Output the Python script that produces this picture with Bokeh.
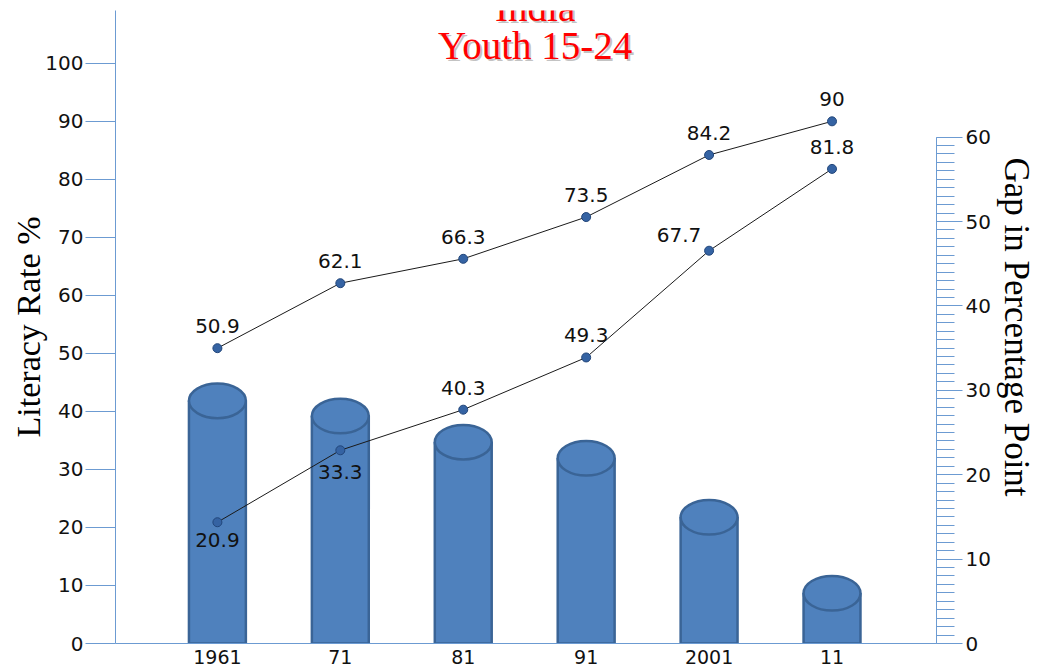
from bokeh.plotting import figure
from bokeh.models import Range1d, LinearAxis, SingleIntervalTicker, FixedTicker, Label, LabelSet, ColumnDataSource
from bokeh.core.properties import value
from bokeh.embed import file_html
from bokeh.resources import INLINE

years = ["1961", "71", "81", "91", "2001", "11"]
male = [50.9, 62.1, 66.3, 73.5, 84.2, 90.0]
female = [20.9, 33.3, 40.3, 49.3, 67.7, 81.8]
gap = [30.8, 29.0, 25.9, 24.0, 17.0, 8.0]
male_text = ["50.9", "62.1", "66.3", "73.5", "84.2", "90"]
female_text = ["20.9", "33.3", "40.3", "49.3", "67.7", "81.8"]

xs = list(range(len(years)))
AXIS_C = "#6C9BD2"

p = figure(width=1038, height=666, x_range=Range1d(-0.829, 5.85), y_range=Range1d(0, 109.1),
           output_backend="svg", toolbar_location=None,
           min_border_top=10, min_border_left=115, min_border_right=101, min_border_bottom=22)
p.extra_y_ranges = {"gap": Range1d(0, 75.0)}
p.xgrid.visible = False
p.ygrid.visible = False
p.outline_line_color = None
p.background_fill_color = "white"

# left axis
ax = p.yaxis[0]
ax.ticker = SingleIntervalTicker(interval=10, num_minor_ticks=0)
ax.major_tick_out = 30
ax.major_tick_in = 0
ax.minor_tick_line_color = None
ax.axis_line_color = AXIS_C
ax.major_tick_line_color = AXIS_C
ax.major_label_text_font = "DejaVu Sans"
ax.major_label_text_font_size = "20px"
ax.major_label_text_color = "#111111"
ax.major_label_standoff = 2
ax.axis_label = "Literacy Rate %"
ax.axis_label_text_font = "Liberation Serif"
ax.axis_label_text_font_size = "34px"
ax.axis_label_text_font_style = "normal"
ax.axis_label_text_color = "black"
ax.axis_label_standoff = -5

# right axis
rax = LinearAxis(y_range_name="gap", ticker=SingleIntervalTicker(interval=10, num_minor_ticks=10),
                 bounds=(0, 60))
rax.major_tick_out = 26
rax.major_tick_in = 0
rax.minor_tick_out = 18
rax.minor_tick_in = 0
rax.axis_line_color = AXIS_C
rax.major_tick_line_color = AXIS_C
rax.minor_tick_line_color = AXIS_C
rax.major_label_text_font = "DejaVu Sans"
rax.major_label_text_font_size = "20px"
rax.major_label_text_color = "#111111"
rax.major_label_standoff = 3
rax.axis_label = "Gap in Percentage Point"
rax.axis_label_text_font = "Liberation Serif"
rax.axis_label_text_font_size = "35px"
rax.axis_label_text_font_style = "normal"
rax.axis_label_text_color = "black"
rax.axis_label_standoff = 3
p.add_layout(rax, "right")

# bottom axis
bx = p.xaxis[0]
bx.ticker = FixedTicker(ticks=xs)
bx.major_label_overrides = {i: y for i, y in zip(xs, years)}
bx.major_tick_line_color = None
bx.minor_tick_line_color = None
bx.axis_line_color = AXIS_C
bx.major_label_text_font = "DejaVu Sans"
bx.major_label_text_font_size = "19px"
bx.major_label_text_color = "#111111"
bx.major_label_standoff = 0

# cylinders
bw = 0.463
eh = 4.1
body_top = [g - eh / 2 for g in gap]
p.quad(left=[x - bw / 2 for x in xs], right=[x + bw / 2 for x in xs], bottom=0, top=body_top,
       y_range_name="gap", fill_color="#4F81BD", line_color="#3A6496", line_width=2.5)
p.ellipse(x=xs, y=body_top, width=bw, height=eh, y_range_name="gap",
          fill_color="#4F81BD", line_color="#3A6496", line_width=2.5)

# lines
p.line(xs, male, line_color="#1a1a1a", line_width=1)
p.line(xs, female, line_color="#1a1a1a", line_width=1)
p.scatter(xs, male, marker="circle", size=9, fill_color="#3563A3", line_color="#22467A", line_width=1)
p.scatter(xs, female, marker="circle", size=9, fill_color="#3563A3", line_color="#22467A", line_width=1)

msrc = ColumnDataSource(dict(x=xs, y=male, t=male_text))
p.add_layout(LabelSet(source=msrc, x="x", y="y", text="t", y_offset=22, text_align="center",
                      text_baseline="middle", text_font=value("DejaVu Sans"),
                      text_font_size=value("20px"), text_color="#111111"))
fsrc = ColumnDataSource(dict(x=xs, y=female, t=female_text,
                             xo=[0, 0, 0, 0, -30, 0], yo=[-18, -22, 22, 22, 16, 22]))
p.add_layout(LabelSet(source=fsrc, x="x", y="y", text="t", x_offset="xo", y_offset="yo",
                      text_align="center", text_baseline="middle", text_font=value("DejaVu Sans"),
                      text_font_size=value("20px"), text_color="#111111"))

# title with shadow
for txt, yy in (("India", 109.6), ("Youth 15-24", 103.1)):
    p.add_layout(Label(x=2.585, y=yy, text=txt, x_offset=2, y_offset=-2, text_align="center",
                       text_baseline="middle", text_font="Liberation Serif", text_font_size="39px",
                       text_color="#888888", text_alpha=0.5))
    p.add_layout(Label(x=2.585, y=yy, text=txt, text_align="center", text_baseline="middle",
                       text_font="Liberation Serif", text_font_size="39px", text_color="#FF0000"))

open("out.html", "w").write(file_html(p, INLINE))
